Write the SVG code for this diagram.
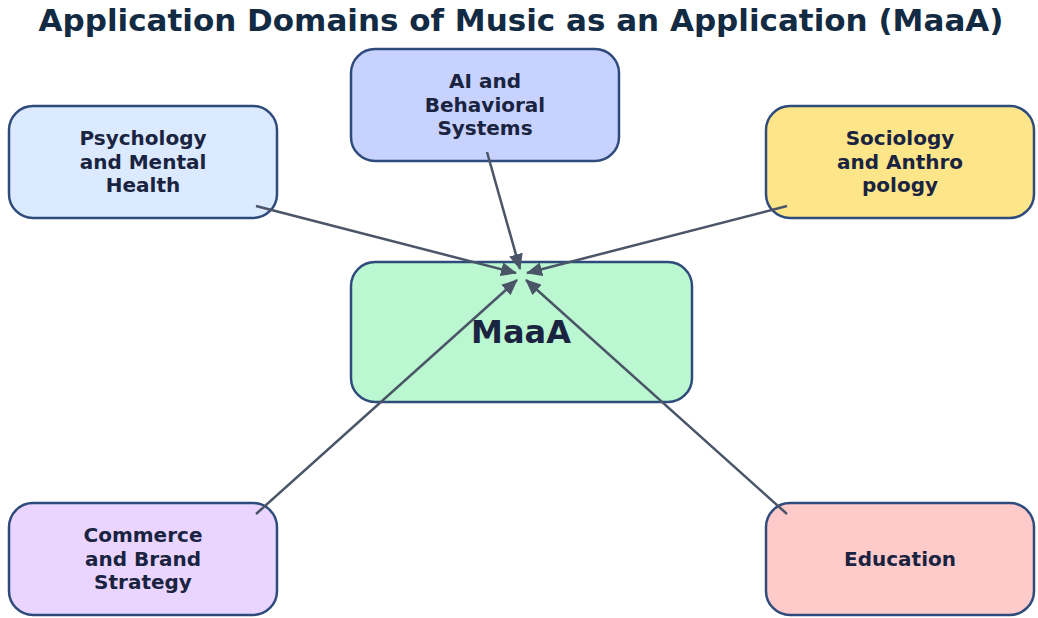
<svg xmlns="http://www.w3.org/2000/svg" width="1038" height="618" viewBox="0 0 1038 618">
<defs>
<style>
.box{stroke:#2f4b7c;stroke-width:2.5}
.t{font-family:"DejaVu Sans",sans-serif;font-weight:bold;fill:#1a2340;text-anchor:middle}
.n{font-size:20px}
.c{stroke:#4a5568;stroke-width:2.5;fill:none;marker-end:url(#ah)}
</style>
<marker id="ah" viewBox="0 0 16 14" refX="15" refY="7" markerWidth="16" markerHeight="14" markerUnits="userSpaceOnUse" orient="auto">
<path d="M0,0 L16,7 L0,14 z" fill="#4a5568" stroke="none"/>
</marker>
</defs>
<rect width="1038" height="618" fill="#ffffff"/>
<text class="t" x="521" y="31" style="font-size:31px;fill:#132a43">Application Domains of Music as an Application (MaaA)</text>
<g id="maaa"><rect class="box" x="351" y="262" width="341" height="140" rx="24" fill="#bbf7d0"/><text class="t" x="521" y="343" style="font-size:32px">MaaA</text></g>
<g id="psychology"><rect class="box" x="9" y="106" width="268" height="112" rx="24" fill="#dbeafe"/><text class="t n" x="143"><tspan x="143" y="145">Psychology</tspan><tspan x="143" y="169">and Mental</tspan><tspan x="143" y="192">Health</tspan></text></g>
<g id="ai"><rect class="box" x="351" y="49" width="268" height="112" rx="24" fill="#c7d2fe"/><text class="t n"><tspan x="485" y="88">AI and</tspan><tspan x="485" y="112">Behavioral</tspan><tspan x="485" y="135">Systems</tspan></text></g>
<g id="sociology"><rect class="box" x="766" y="106" width="268" height="112" rx="24" fill="#fde68a"/><text class="t n"><tspan x="900" y="145">Sociology</tspan><tspan x="900" y="169">and Anthro</tspan><tspan x="900" y="192">pology</tspan></text></g>
<g id="commerce"><rect class="box" x="9" y="503" width="268" height="112" rx="24" fill="#e9d5ff"/><text class="t n"><tspan x="143" y="542">Commerce</tspan><tspan x="143" y="566">and Brand</tspan><tspan x="143" y="589">Strategy</tspan></text></g>
<g id="education"><rect class="box" x="766" y="503" width="268" height="112" rx="24" fill="#fecaca"/><text class="t n" x="900" y="566">Education</text></g>
<g id="connectors">
<line class="c" x1="256" y1="206" x2="516" y2="273"/>
<line class="c" x1="487" y1="152" x2="520" y2="269"/>
<line class="c" x1="787" y1="206" x2="527" y2="273"/>
<line class="c" x1="256" y1="514" x2="517" y2="280"/>
<line class="c" x1="787" y1="514" x2="526" y2="280"/>
</g>
</svg>
